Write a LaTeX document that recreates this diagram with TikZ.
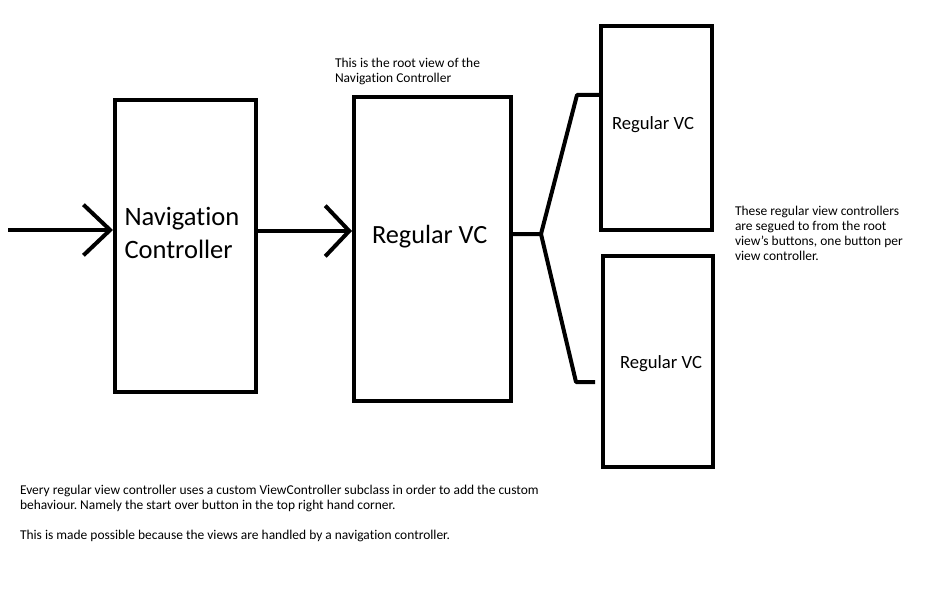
\documentclass[tikz,border=0pt]{standalone}
\usepackage{fontspec}
\setmainfont{Carlito}[Ligatures=NoCommon]
\usetikzlibrary{arrows.meta}

\begin{document}
\frenchspacing
\begin{tikzpicture}[x=0.75pt,y=-0.75pt,line width=3pt,
    box/.style={draw,minimum width=#1},
    chev/.style={-{Straight Barb[length=#1,width=38pt]}},
    note/.style={font=\fontsize{10.1}{11.25}\selectfont,align=left,anchor=north west,inner sep=0pt}]
    \useasboundingbox (0,0) rectangle (937,606);
    \node[box=105.75pt,minimum height=219pt] (nc) at (185.5,246) {};
    \node[box=117.75pt,minimum height=228pt] (rvc) at (432.5,249) {};
    \node[box=83.25pt,minimum height=153pt] (vc1) at (656.5,128) {};
    \node[box=82.5pt,minimum height=158.25pt] (vc2) at (658,361.5) {};
    \node[font=\fontsize{19.9}{24.75}\selectfont,align=left,anchor=north west,inner sep=0pt] (nclabel) at (122.5,205) {Navigation\\Controller};
    \node[font=\fontsize{19.7}{24}\selectfont,anchor=base west,inner sep=0pt] (rvclabel) at (370,243) {Regular VC};
    \node[font=\fontsize{14}{17}\selectfont,anchor=base west,inner sep=0pt] (vc1label) at (610,130) {Regular VC};
    \node[font=\fontsize{14}{17}\selectfont,anchor=base west,inner sep=0pt] (vc2label) at (618,368) {Regular VC};
    % notes
    \node[note] (rootnote) at (333,56) {This is the root view of the\\Navigation Controller};
    \node[note] (segnote) at (733,204) {These regular view controllers\\are segued to from the root\\view's buttons, one button per\\view controller.};
    \node[note] (bottomnote) at (18,483) {Every regular view controller uses a custom ViewController subclass in order to add the custom\\behaviour. Namely the start over button in the top right hand corner.\\[11.25pt]This is made possible because the views are handled by a navigation controller.};
    % connectors
    \coordinate (entry) at (8,230);
    \coordinate (split) at (541,234);
    \coordinate (up) at (577,95);
    \coordinate (down) at (576,382);
    \draw[chev=20pt] (entry) -- (entry -| nc.west);
    \draw[chev=18pt] (nc.east |- 0,231) -- (rvc.west |- 0,231);
    \draw[line join=round] (rvc.east |- split) -- (split) -- (up) -- (up -| vc1.west);
    \draw[line join=round,shorten >=4.5pt] (split) -- (down) -- (down -| vc2.west);
\end{tikzpicture}
\end{document}
